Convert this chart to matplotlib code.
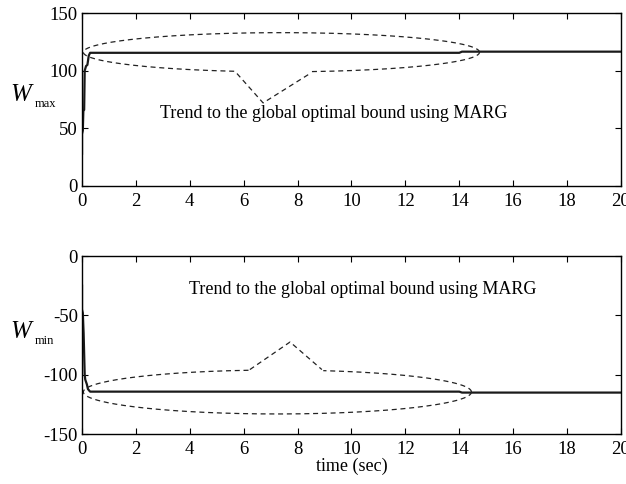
import numpy as np
import matplotlib
matplotlib.use("Agg")
import matplotlib.pyplot as plt

plt.rcParams['font.family'] = ['Liberation Serif', 'DejaVu Serif']
plt.rcParams['axes.unicode_minus'] = False

# Data
t_max = [0.0, 0.0, 0.03, 0.05, 0.08, 0.10, 0.15, 0.20, 0.25, 0.30, 14.0, 14.1, 20.0]
w_max = [28, 45, 48, 65, 66, 100, 104, 105, 113, 115.5, 115.5, 116.5, 116.5]
t_min = [0.0, 0.0, 0.03, 0.06, 0.10, 0.12, 0.18, 0.22, 0.30, 14.0, 14.1, 20.0]
w_min = [-25, -45, -48, -65, -100, -104, -108, -112, -114.2, -114.2, -115, -115]

xticks = list(range(0, 21, 2))
yticks_top = [0, 50, 100, 150]
yticks_bot = [-150, -100, -50, 0]
note = "Trend to the global optimal bound using MARG"

# annotation geometry (ellipse center, half-widths; callout points)
ell_top = dict(cx=7.4, cy=116.0, a=7.35, b=17.0)
call_top_x = [5.75, 6.72, 8.46]
call_top_y = [97.5, 72.0, 97.5]
ell_bot = dict(cx=7.25, cy=-114.5, a=7.2, b=18.5)
call_bot_x = [6.23, 7.72, 8.9]
call_bot_y = [-95.6, -72.4, -95.6]

fig = plt.figure(figsize=(6.26, 4.84), dpi=100)
ax1 = fig.add_axes([0.131, 0.616, 0.861, 0.357])
ax2 = fig.add_axes([0.131, 0.103, 0.861, 0.368])

def style(ax, yticks, ylim):
    ax.set_xlim(0, 20)
    ax.set_ylim(*ylim)
    ax.set_xticks(xticks)
    ax.set_yticks(yticks)
    ax.tick_params(direction='in', top=True, right=True, labelsize=13.5, length=4, width=0.8)
    ax.tick_params(axis='x', pad=5)
    ax.tick_params(axis='y', pad=3)
    for s in ax.spines.values():
        s.set_linewidth(1.0)

def draw_ellipse(ax, e, cx_x, cy_side):
    th = np.linspace(0, 2 * np.pi, 600)
    x = e['cx'] + e['a'] * np.cos(th)
    y = e['cy'] + e['b'] * np.sin(th)
    side = (y < e['cy']) if cy_side < 0 else (y > e['cy'])
    mask = side & (x > cx_x[0]) & (x < cx_x[-1])
    y = np.where(mask, np.nan, y)
    ax.plot(x, y, color='#222222', ls=(0, (4, 3)), lw=0.9)

ax1.plot(t_max, w_max, color='#1a1a1a', lw=1.6)
style(ax1, yticks_top, (0, 150))
draw_ellipse(ax1, ell_top, call_top_x, -1)
ax1.plot(call_top_x, call_top_y, color='#222222', ls=(0, (4, 3)), lw=0.9)
ax1.text(9.35, 62.5, note, ha='center', va='center', fontsize=13)

ax2.plot(t_min, w_min, color='#1a1a1a', lw=1.6)
style(ax2, yticks_bot, (-150, 0))
draw_ellipse(ax2, ell_bot, call_bot_x, 1)
ax2.plot(call_bot_x, call_bot_y, color='#222222', ls=(0, (4, 3)), lw=0.9)
ax2.text(10.4, -28.6, note, ha='center', va='center', fontsize=13)
ax2.set_xlabel('time (sec)', fontsize=13, labelpad=0)

H = 484.0
W = 626.0
for base, sub in [(101, 'max'), (338, 'min')]:
    fig.text(10 / W, 1 - base / H, 'W', style='italic', ha='left', va='baseline', fontsize=18)
    fig.text(35 / W, 1 - (base + 6) / H, sub, ha='left', va='baseline', fontsize=9)

fig.savefig('out.png', dpi=100)
